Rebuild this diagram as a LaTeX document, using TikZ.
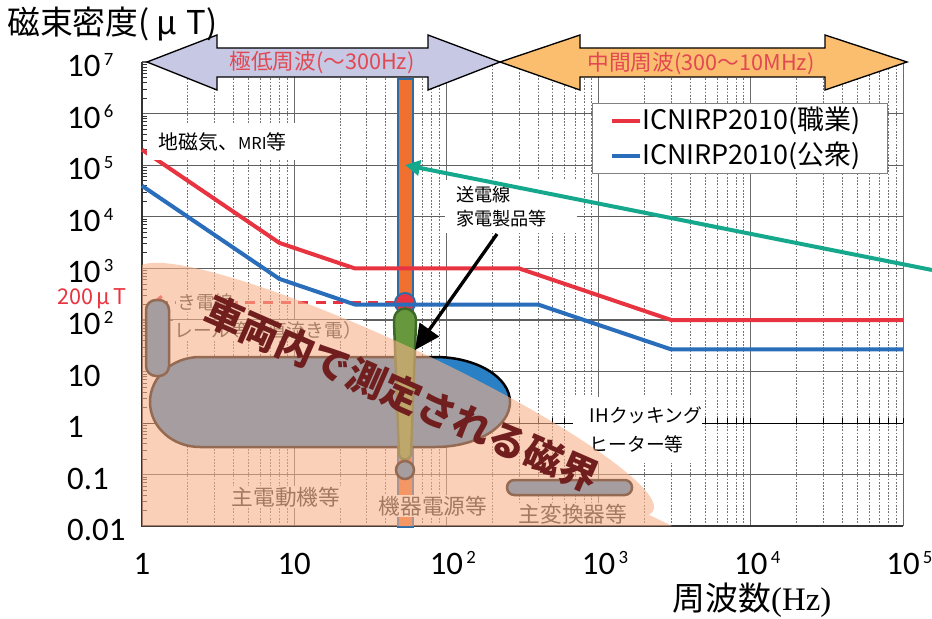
\documentclass[tikz,border=0pt]{standalone}
\usepackage{fontspec}
\setmainfont{Carlito}
\newfontfamily\jp{Noto Sans CJK JP}
\newfontfamily\serf{Liberation Serif}
\usetikzlibrary{arrows.meta}
\definecolor{cRed}{RGB}{232,52,64}
\definecolor{cBlue}{RGB}{42,110,187}
\definecolor{cTeal}{RGB}{22,168,140}
\definecolor{cOrange}{RGB}{240,112,48}
\definecolor{cBar}{RGB}{46,108,168}
\definecolor{cCap}{RGB}{41,128,196}
\definecolor{cGreen}{RGB}{104,152,62}
\definecolor{cGreenD}{RGB}{60,105,40}
\definecolor{cPeach}{RGB}{248,177,137}
\definecolor{cLav}{RGB}{198,200,228}
\definecolor{cAmber}{RGB}{250,190,110}
\definecolor{cArrTxt}{RGB}{226,72,82}
\definecolor{cMaroon}{RGB}{112,30,30}
\newcommand\tens[1]{10\makebox[0pt][l]{\hspace{0.1cm}\raisebox{0.33cm}{\fontsize{16}{16}\selectfont #1}}}
\begin{document}
\begin{tikzpicture}[x=0.03cm,y=-0.03cm,
  gridminor/.style={draw=gray!90!black, line width=0.6pt, dash pattern=on 1.5pt off 1.3pt},
  gridmajor/.style={draw=gray!85!black, line width=0.8pt},
  gridh/.style={draw=gray!75!black, line width=1pt},
  curve/.style={line width=0.12cm, line join=round},
  capsule/.style={fill=cCap, draw=black, line width=0.075cm},
  wbox/.style={fill=white, inner sep=1pt},
  lbl/.style={font=\jp\fontsize{18.5}{20}\selectfont, text=black!85},
  small/.style={font=\jp\fontsize{16}{20.4}\selectfont},
  axnum/.style={font=\fontsize{28}{30}\selectfont},
  bigarrow/.style={draw=black, line width=0.04cm, line join=miter},
  arrtxt/.style={text=cArrTxt, font=\jp\fontsize{18.5}{20}\selectfont},
  legtxt/.style={anchor=west, font=\jp\fontsize{23}{25}\selectfont, inner sep=0pt},
  ]
\useasboundingbox (0,0) rectangle (932,618);
\fill[white] (0,0) rectangle (932,618);

% ---------------- grid ----------------
\foreach \k in {0,...,4}{
  \foreach \m in {2,...,9}{
    \pgfmathsetmacro\gx{142+152.2*(\k+ln(\m)/ln(10))}
    \draw[gridminor] (\gx,62) -- (\gx,526);
  }
}
\foreach \k in {1,...,5}{
  \pgfmathsetmacro\gx{142+152.2*\k}
  \draw[gridmajor] (\gx,62) -- (\gx,526);
}
\foreach \j in {0,...,9}{
  \pgfmathsetmacro\gy{62+51.6*\j}
  \draw[gridh] (142,\gy) -- (903,\gy);
}
% y-axis minor ticks
\foreach \j in {0,...,8}{
  \foreach \m in {2,...,9}{
    \pgfmathsetmacro\gy{62+51.6*(\j+1)-51.6*ln(\m)/ln(10)}
    \draw[black!80, line width=0.7pt] (142,\gy) -- (147,\gy);
  }
}
% axis line at 1 uT with ticks
\draw[black, line width=1.1pt] (142,423.2) -- (903,423.2);
\foreach \k in {0,...,4}{
  \foreach \m in {1,...,9}{
    \pgfmathsetmacro\gx{142+152.2*(\k+ln(\m)/ln(10))}
    \draw[black, line width=0.8pt] (\gx,423.2) -- (\gx,417.5);
  }
}
\draw[black, line width=0.8pt] (903,423.2) -- (903,417.5);
\draw[black!80, line width=1.2pt] (142,62) -- (142,526) -- (903,526);

% ---------------- ICNIRP curves ----------------
\coordinate (r1) at (142,149.7);
\coordinate (r2) at (279.4,242.9);
\coordinate (r3) at (354.8,268.4);
\coordinate (r4) at (519,268.4);
\coordinate (r5) at (671.2,320);
\coordinate (r6) at (903,320);
\coordinate (b1) at (142,185.8);
\coordinate (b2) at (279.4,278.9);
\coordinate (b3) at (354.8,304.5);
\coordinate (b4) at (538,304.5);
\coordinate (b5) at (671.2,349.4);
\coordinate (b6) at (903,349.4);

% 200 uT dashed arrow
\coordinate (dashL) at (152,302);
\coordinate (dashR) at (396,302);
\draw[cRed, line width=0.09cm, dash pattern=on 8.5pt off 6.5pt, -{Straight Barb[length=0.22cm,width=0.34cm]}] (dashR) -- (dashL);

% labels under the overlay
\node[wbox, anchor=west, small, text=black!80] (kiden) at (176,302) {き電線};
\node[wbox, anchor=west, small, text=black!80] (rail) at (173,330) {レール等（直流き電）};
\node[wbox, lbl] (motor) at (286,497) {主電動機等};
\node[wbox, lbl] (conv) at (573,514) {主変換器等};
\node[fill=white, anchor=north west, inner sep=0pt, minimum width=3.87cm, minimum height=1.98cm,
      text width=3.87cm, align=left, font=\jp\fontsize{16}{24.6}\selectfont] (ih) at (573,397)
      {\hspace*{0.5cm}IHクッキング\\\hspace*{0.5cm}ヒーター等};

% bar and 200uT marker
\node[draw=cBar, fill=cOrange, line width=0.06cm, inner sep=0pt, minimum width=0.45cm, minimum height=13.44cm, anchor=north] (bar) at (405.5,78) {};
\draw[fill=cRed, draw=cBar, line width=0.06cm] (405,303) circle [radius=0.3cm];
\node[wbox, lbl] (power) at (433,506) {機器電源等};

\draw[cRed, curve] (r1) -- (r2) -- (r3) -- (r4) -- (r5) -- (r6);
\draw[cBlue, curve] (b1) -- (b2) -- (b3) -- (b4) -- (b5) -- (b6);

% white label box over the red curve
\node[fill=white, minimum width=4.53cm, minimum height=1.11cm, inner sep=0pt, font=\jp\fontsize{17}{20}\selectfont] (geo) at (222.5,141.5) {地磁気、{\fontsize{14}{16}\selectfont MRI}等};

% capsules
\draw[capsule] (200,357) -- (435,357) .. controls (476.4,357) and (510,377.1) .. (510,402)
  .. controls (510,426.9) and (476.4,447) .. (435,447) -- (200,447)
  .. controls (172.4,447) and (150,426.9) .. (150,402)
  .. controls (150,377.1) and (172.4,357) .. (200,357) -- cycle;
\draw[capsule, rounded corners=0.3cm] (146,300) rectangle (169,376);
\draw[capsule, rounded corners=0.22cm] (507,480) rectangle (632,495);
\draw[fill=cGreen, draw=cGreenD, line width=0.075cm] (399,455) -- (394,322)
  .. controls (393,304) and (417,304) .. (416,322) -- (411,455)
  .. controls (410,461) and (400,461) .. (399,455) -- cycle;
\draw[capsule] (405,470) circle [radius=0.27cm];

% translucent overlay
\begin{scope}
  \clip (142,62) rectangle (903,526);
  \fill[cPeach, opacity=0.6] (142,268) -- (672,526) -- (142,526) -- cycle;
  \begin{scope}
    \clip (0,0) -- (932,0) -- (932,526) -- (672,526) -- (142,268) -- (0,200) -- cycle;
    \fill[cPeach, opacity=0.6, rotate around={-25:(395,390)}] (395,390) ellipse [x radius=8.55cm, y radius=1.35cm];
  \end{scope}
\end{scope}

\node[rotate=-23.7, text=cMaroon, inner sep=0pt, font=\jp\bfseries\fontsize{33}{33}\selectfont] (msg) at (402,394) {車両内で測定される磁界};

% label with arrows
\node[fill=white, anchor=north west, inner sep=0pt, minimum width=3.96cm, minimum height=1.59cm,
      text width=3.96cm, align=left, font=\jp\fontsize{15.5}{20.4}\selectfont] (tl) at (445,180)
      {\hspace*{0.33cm}送電線\\\hspace*{0.33cm}家電製品等};
\coordinate (tealS) at (932,270);
\coordinate (tealE) at (405,165);
\draw[cTeal, line width=0.12cm, -{Triangle[length=0.45cm,width=0.45cm]}] (tealS) -- (tealE);
\coordinate (blkS) at (497,234);
\coordinate (blkE) at (415,350);
\draw[black, line width=0.1cm, -{Triangle[length=0.75cm,width=0.7cm]}] (blkS) -- (blkE);

% top frequency-band arrows
\draw[bigarrow, fill=cLav] (147,62) -- (217,35) -- (217,48) -- (428,48) -- (428,35) -- (500,62)
  -- (428,90) -- (428,77) -- (217,77) -- (217,90) -- cycle;
\draw[bigarrow, fill=cAmber] (500,62) -- (580,35) -- (580,48) -- (825,48) -- (825,35) -- (907,62)
  -- (825,90) -- (825,77) -- (580,77) -- (580,90) -- cycle;
\node[arrtxt] (elf) at (322,63) {極低周波(～300Hz)};
\node[arrtxt] (iff) at (701,64) {中間周波(300～10MHz)};

% legend
\node[draw=gray, fill=white, line width=0.03cm, minimum width=8.85cm, minimum height=2.07cm, inner sep=0pt] (leg) at (739.5,138.5) {};
\coordinate (lr1) at (612,121); \coordinate (lr2) at (640,121);
\coordinate (lb1) at (612,156); \coordinate (lb2) at (640,156);
\draw[cRed, line width=0.11cm] (lr1) -- (lr2);
\draw[cBlue, line width=0.11cm] (lb1) -- (lb2);
\node[legtxt] (legr) at (642,121) {ICNIRP2010(職業)};
\node[legtxt] (legb) at (642,156) {ICNIRP2010(公衆)};

% 200 uT label
\node[text=cRed, font=\jp\fontsize{18.5}{20}\selectfont, inner sep=0pt] (lim) at (92,299) {200\,μ\,T};

% axis numbers
\foreach \j/\t in {0/\tens{7},1/\tens{6},2/\tens{5},3/\tens{4},4/\tens{3},5/\tens{2},6/10,7/1,8/0.1,9/0.01}{
  \node[axnum, anchor=base west, inner sep=0pt] (yl\j) at (67,{62+51.6*\j+14.5}) {\t};
}
\foreach \k/\t in {0/1,1/10,2/\tens{2},3/\tens{3},4/\tens{4},5/\tens{5}}{
  \node[axnum, anchor=base, inner sep=0pt] (xl\k) at ({142+152.2*\k},574.5) {\t};
}
\node[anchor=west, inner sep=0pt, font=\jp\fontsize{28}{30}\selectfont] (ytitle) at (7,24) {磁束密度(\hspace{0.2cm}μ\hspace{0.3cm}T)};
\node[inner sep=0pt, font=\jp\fontsize{28}{30}\selectfont] (xtitle) at (752,600) {周波数{\serf(Hz)}};
\end{tikzpicture}
\end{document}
